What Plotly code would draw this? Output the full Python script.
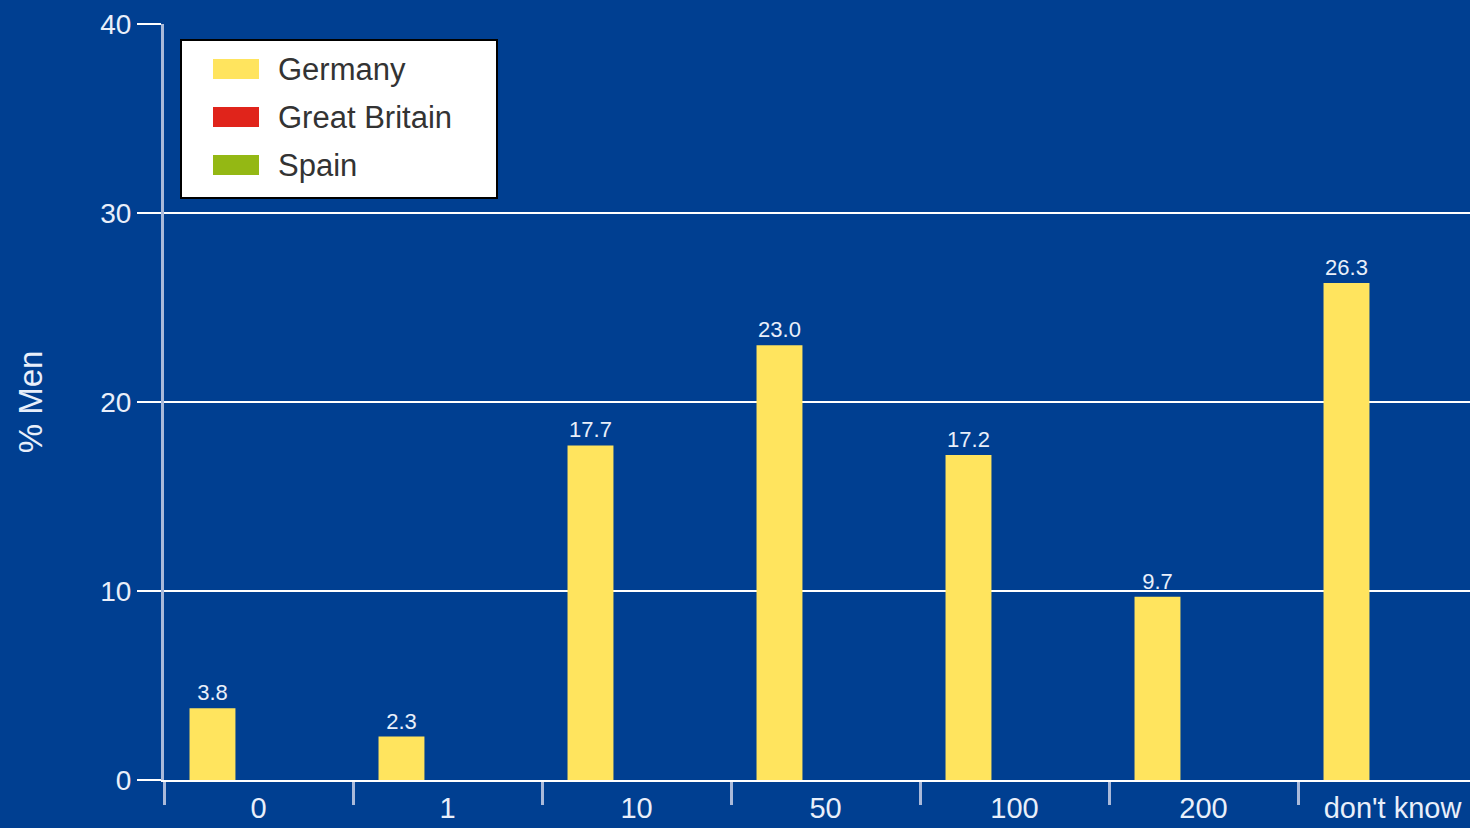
import plotly.graph_objects as go

categories = ["0", "1", "10", "50", "100", "200", "don't know"]
series_names = ["Germany", "Great Britain", "Spain"]
germany = [3.8, 2.3, 17.7, 23.0, 17.2, 9.7, 26.3]
great_britain = [None] * 7
spain = [None] * 7
y_ticks = [0, 10, 20, 30, 40]

colors = ["#FFE45E", "#E0241B", "#94B814"]
bg = "#003F91"
txt = "#E9EFFA"
font = "Liberation Sans, Arial, sans-serif"

W, H = 1470, 828
L, R, T, B = 164, 0, 24, 48
PW, PH = W - L - R, H - T - B


def px(x):
    return (x - L) / PW


def py(y):
    return (H - B - y) / PH


fig = go.Figure()
for name, vals, col in zip(series_names, [germany, great_britain, spain], colors):
    fig.add_trace(go.Bar(
        x=categories, y=vals, name=name, marker=dict(color=col, line=dict(width=0)),
        width=0.243, offset=-0.365, showlegend=False,
        texttemplate="%{y:.1f}", textposition="outside", cliponaxis=False,
        textfont=dict(size=22, color=txt, family=font),
    ))

# legend box (drawn by hand so the swatches match the reference size)
shapes = [dict(type="rect", xref="paper", yref="paper",
               x0=px(181), x1=px(497), y0=py(198), y1=py(40),
               fillcolor="white", line=dict(color="black", width=2), layer="above")]
annotations = []
for i, (name, col) in enumerate(zip(series_names, colors)):
    cy = 69 + 48 * i
    shapes.append(dict(type="rect", xref="paper", yref="paper",
                       x0=px(213), x1=px(259), y0=py(cy + 10), y1=py(cy - 10),
                       fillcolor=col, line=dict(width=0), layer="above"))
    annotations.append(dict(xref="paper", yref="paper", x=px(276), y=py(cy),
                            xanchor="left", yanchor="middle", showarrow=False,
                            text=name, font=dict(size=31, color="#333333", family=font)))

fig.update_layout(
    width=W, height=H,
    margin=dict(l=L, r=R, t=T, b=B),
    paper_bgcolor=bg, plot_bgcolor=bg,
    font=dict(family=font, color=txt),
    showlegend=False,
    shapes=shapes, annotations=annotations,
    xaxis=dict(
        type="category", range=[-0.5, 6.41], automargin=False,
        showgrid=False, showline=True, linecolor="white", linewidth=2,
        ticks="outside", tickson="boundaries", ticklen=23, tickwidth=3, tickcolor="#A9B9D9",
        tickfont=dict(size=29, color=txt), ticklabelstandoff=1, fixedrange=True,
    ),
    yaxis=dict(
        range=[0, 40], tickvals=y_ticks, showgrid=True, gridcolor="white", gridwidth=2,
        automargin=False,
        ticks="outside", ticklen=24, tickwidth=2, tickcolor="white",
        showline=True, linecolor="#A9B9D9", linewidth=3, zeroline=False,
        tickfont=dict(size=28, color=txt),
        title=dict(text="% Men", font=dict(size=33, color=txt), standoff=48),
    ),
)
fig.write_html("out.html")
